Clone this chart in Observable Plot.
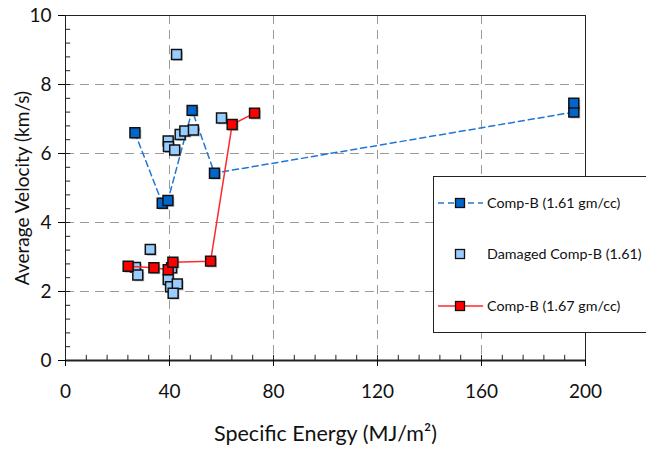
<!DOCTYPE html>
<html>
<head>
<meta charset="utf-8">
<script src="https://cdn.jsdelivr.net/npm/d3@7"></script>
<script src="https://cdn.jsdelivr.net/npm/@observablehq/plot@0.6"></script>
<style>
  body { margin: 0; background: #fff; }
  #chart { position: relative; width: 646px; height: 459px; overflow: hidden; }
</style>
</head>
<body>
<div id="chart"></div>
<script>
// Comp-B (1.61 gm/cc) — connected
const compB161X = [26.7, 37.2, 39.4, 48.7, 57.3, 195.5, 195.5];
const compB161Y = [6.60, 4.56, 4.64, 7.25, 5.43, 7.20, 7.46];
// Damaged Comp-B (1.61) — markers only
const damagedX = [42.7, 60.0, 39.5, 39.6, 42.0, 44.1, 45.9, 49.2, 32.6, 26.9, 27.8, 39.5, 40.4, 43.0, 41.4, 40.8];
const damagedY = [8.87, 7.03, 6.36, 6.20, 6.10, 6.55, 6.65, 6.68, 3.22, 2.70, 2.48, 2.35, 2.14, 2.22, 1.95, 2.69];
// Comp-B (1.67 gm/cc) — connected
const compB167X = [24.1, 34.0, 39.5, 41.3, 55.8, 64.1, 72.7];
const compB167Y = [2.73, 2.69, 2.63, 2.85, 2.88, 6.84, 7.17];

const seriesNames = ["Comp-B (1.61 gm/cc)", "Damaged Comp-B (1.61)", "Comp-B (1.67 gm/cc)"];
const xTicks = [0, 40, 80, 120, 160, 200];
const yTicks = [0, 2, 4, 6, 8, 10];
const xMinor = d3.range(0, 201, 8);
const yMinor = d3.range(0, 10.01, 0.4);
const xGrid = [40, 80, 120, 160];
const yGrid = [2, 4, 6, 8];
const xTitle = "Specific Energy (MJ/m²)";
const yTitle = "Average Velocity (km/s)";

const toRows = (xs, ys) => xs.map((x, i) => ({x, y: ys[i]}));
const s161 = toRows(compB161X, compB161Y);
const sDam = toRows(damagedX, damagedY);
const s167 = toRows(compB167X, compB167Y);

const colors = {dark: "#0066CC", light: "#99CCFF", red: "#FF0000", blueLine: "#1F77D4", redLine: "#FF2A2A"};
const R = 5.6;

function squares(data, fill) {
  return [
    Plot.dot(data, {x: "x", y: "y", symbol: "square", r: R, fill: "#777", fillOpacity: 0.45, stroke: "none", dx: 1.5, dy: 1.5}),
    Plot.dot(data, {x: "x", y: "y", symbol: "square", r: R, fill, stroke: "#111", strokeWidth: 1.5})
  ];
}

const chart = Plot.plot({
  width: 646,
  height: 459,
  marginLeft: 65,
  marginRight: 61,
  marginTop: 15,
  marginBottom: 99,
  style: {fontFamily: "Lato, sans-serif", background: "#fff"},
  x: {domain: [0, 200]},
  y: {domain: [0, 10]},
  marks: [
    Plot.ruleX(xGrid, {stroke: "#9a9a9a", strokeDasharray: "9,6", strokeWidth: 1}),
    Plot.ruleY(yGrid, {stroke: "#9a9a9a", strokeDasharray: "9,6", strokeWidth: 1}),
    Plot.frame({stroke: "#222", strokeWidth: 1}),
    Plot.ruleY([0], {stroke: "#222", strokeWidth: 2}),
    Plot.ruleX(xMinor, {y1: 0, y2: 0.15, stroke: "#222"}),
    Plot.ruleY(yMinor, {x1: 0, x2: 2, stroke: "#222"}),
    Plot.axisX({ticks: xTicks, tickSize: 6, tickPadding: 18, fontSize: 19, fill: "#111", label: null, tickFormat: d => String(d)}),
    Plot.axisY({ticks: yTicks, tickSize: 7, tickPadding: 7, fontSize: 19, fill: "#111", label: null, tickFormat: d => String(d)}),
    Plot.text([xTitle], {frameAnchor: "bottom", dy: 80, fontSize: 21.5, fill: "#111"}),
    Plot.text([yTitle], {frameAnchor: "left", textAnchor: "middle", dx: -43, rotate: -90, fontSize: 19, fill: "#111"}),
    Plot.line(s161, {x: "x", y: "y", stroke: colors.blueLine, strokeWidth: 1.5, strokeDasharray: "6,4"}),
    ...squares(s161, colors.dark),
    ...squares(sDam, colors.light),
    Plot.line(s167, {x: "x", y: "y", stroke: colors.redLine, strokeWidth: 1.5}),
    ...squares(s167, colors.red)
  ]
});

document.getElementById("chart").appendChild(chart);

// Legend box (inside the plot area, as in the reference)
const svg = d3.select(chart);
const lg = svg.append("g").attr("font-family", "Lato, sans-serif").attr("text-anchor", "start");
lg.append("rect").attr("x", 433.5).attr("y", 176.5).attr("width", 230).attr("height", 156)
  .attr("fill", "#fff").attr("stroke", "#222").attr("stroke-width", 1);
const legendItems = [
  {name: seriesNames[0], fill: colors.dark, line: colors.blueLine, dash: "6,4"},
  {name: seriesNames[1], fill: colors.light, line: null},
  {name: seriesNames[2], fill: colors.red, line: colors.redLine, dash: null}
];
const rowY = [203, 254, 306];
legendItems.forEach((it, i) => {
  const y = rowY[i];
  if (it.line) {
    lg.append("line").attr("x1", 438).attr("x2", 483).attr("y1", y).attr("y2", y)
      .attr("stroke", it.line).attr("stroke-width", 1.5).attr("stroke-dasharray", it.dash);
  }
  lg.append("rect").attr("x", 455.5).attr("y", y - 4.5).attr("width", 9).attr("height", 9)
    .attr("fill", it.fill).attr("stroke", "#111").attr("stroke-width", 1.3);
  lg.append("text").attr("x", 487).attr("y", y).attr("dy", "0.35em").attr("text-anchor", "start")
    .attr("font-size", 14.3).attr("fill", "#111").text(it.name);
});
</script>
</body>
</html>
